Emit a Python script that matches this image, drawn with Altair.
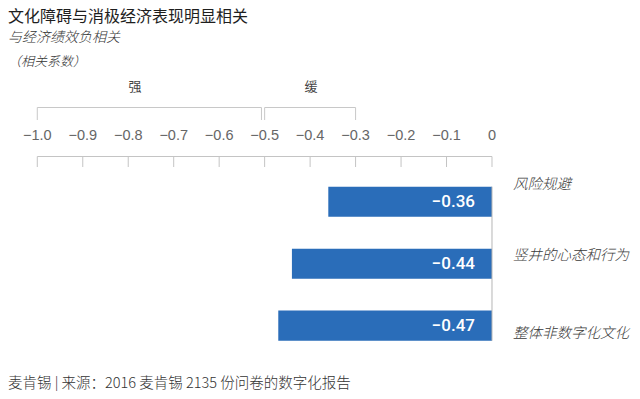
import altair as alt
import pandas as pd

# ---- data ----
categories = ["风险规避", "竖井的心态和行为", "整体非数字化文化"]
values = [-0.36, -0.44, -0.47]
value_labels = ["−0.36", "−0.44", "−0.47"]
label_offsets = [-17, -8, 8]

tick_values = [-1.0, -0.9, -0.8, -0.7, -0.6, -0.5, -0.4, -0.3, -0.2, -0.1, 0.0]
tick_labels = ["−1.0", "−0.9", "−0.8", "−0.7", "−0.6", "−0.5", "−0.4", "−0.3", "−0.2", "−0.1", "0"]

bracket_names = ["强", "缓"]
bracket_start = [-1.0, -0.5]
bracket_end = [-0.507, -0.3]
bracket_label_x = [-0.785, -0.398]

title_text = "文化障碍与消极经济表现明显相关"
subtitle_text = "与经济绩效负相关"
unit_text = "（相关系数）"
footer_text = "麦肯锡 | 来源：2016  麦肯锡 2135 份问卷的数字化报告"

CJK = "Noto Sans CJK SC"
LAT = "Liberation Sans"

bars_df = pd.DataFrame({"category": categories, "value": values, "label": value_labels})
ticks_df = pd.DataFrame({"tick": tick_values, "label": tick_labels})
br_df = pd.DataFrame({"name": bracket_names, "start": bracket_start, "end": bracket_end,
                      "lx": bracket_label_x})

xscale = alt.Scale(domain=[-1.0644, 0.3079], nice=False, zero=False)
yscale = alt.Scale(domain=categories, range=[178.7, 332.7], paddingInner=0.514, paddingOuter=0)

base = alt.Chart(bars_df).transform_calculate(zero="0")

bars = base.mark_bar(color="#2A6DB9").encode(
    x=alt.X("value:Q", scale=xscale, axis=None),
    x2="zero:Q",
    y=alt.Y("category:N", sort=categories, scale=yscale, axis=None),
)

bar_text = base.mark_text(align="right", baseline="middle", dx=-17, color="white",
                          fontSize=17, font="Roboto", fontWeight=500).encode(
    x=alt.X("zero:Q", scale=xscale, axis=None),
    y=alt.Y("category:N", sort=categories, scale=yscale, axis=None),
    text="label:N",
)

zero_line = base.transform_aggregate(z="max(zero)").mark_rule(color="#b5b5b5", strokeWidth=1).encode(
    x=alt.X("z:Q", scale=xscale, axis=None),
    y=alt.value(178.7), y2=alt.value(332.7),
)

cat_layers = []
for c, off in zip(categories, label_offsets):
    cat_layers.append(
        alt.Chart(bars_df).transform_filter(alt.datum.category == c).mark_text(
            align="left", baseline="middle", dy=off, fontStyle="italic", fontSize=14.5,
            font=CJK, fontWeight=300, color="#3a3a3a").encode(
            x=alt.value(505),
            y=alt.Y("category:N", sort=categories, scale=yscale, axis=None),
            text="category:N",
        )
    )

# tick row (bracket-style axis)
tick_line = alt.Chart(ticks_df).transform_aggregate(lo="min(tick)", hi="max(tick)").mark_rule(
    color="#c4c4c4", strokeWidth=1).encode(
    x=alt.X("lo:Q", scale=xscale, axis=None), x2="hi:Q", y=alt.value(148.5))
tick_marks = alt.Chart(ticks_df).mark_rule(color="#c4c4c4", strokeWidth=1).encode(
    x=alt.X("tick:Q", scale=xscale, axis=None), y=alt.value(148.5), y2=alt.value(159))
tick_text = alt.Chart(ticks_df).mark_text(baseline="middle", fontSize=14.5, font=LAT,
                                          color="#666666").encode(
    x=alt.X("tick:Q", scale=xscale, axis=None), y=alt.value(128), text="label:N")

# brackets
br_top = alt.Chart(br_df).mark_rule(color="#c8c8c8", strokeWidth=1).encode(
    x=alt.X("start:Q", scale=xscale, axis=None), x2="end:Q", y=alt.value(99.5))
br_ends = alt.Chart(br_df).transform_fold(["start", "end"], as_=["k", "pos"]).mark_rule(
    color="#c8c8c8", strokeWidth=1).encode(
    x=alt.X("pos:Q", scale=xscale, axis=None), y=alt.value(99.5), y2=alt.value(112))
br_text = alt.Chart(br_df).mark_text(baseline="middle", fontSize=13, font=CJK,
                                     color="#444444").encode(
    x=alt.X("lx:Q", scale=xscale, axis=None), y=alt.value(78.7), text="name:N")

def txt(s, y, size, italic=False, color="#222222", weight=None, baseline="middle"):
    kw = dict(align="left", baseline=baseline, fontSize=size, font=CJK, color=color)
    if italic:
        kw["fontStyle"] = "italic"
    if weight is not None:
        kw["fontWeight"] = weight
    return alt.Chart(pd.DataFrame({"t": [s]})).mark_text(**kw).encode(
        text="t:N", x=alt.value(0), y=alt.value(y))

title = txt(title_text, 1, 16, color="#1e1e1e", baseline="top")
subtitle = txt(subtitle_text, 30.3, 14, italic=True, color="#333333", weight=300)
unit = txt(unit_text, 53.7, 13, italic=True, color="#333333", weight=300)
footer = txt(footer_text, 376, 14.5, color="#333333", weight=300)

chart = alt.layer(
    br_top, br_ends, br_text, tick_line, tick_marks, tick_text,
    bars, zero_line, bar_text, *cat_layers, title, subtitle, unit, footer
).properties(
    width=624, height=383, padding=0,
    autosize=alt.AutoSizeParams(type="none"),
    background="white",
).configure_view(strokeOpacity=0)

chart.save("out.html", embed_options={"renderer": "svg", "actions": False})
